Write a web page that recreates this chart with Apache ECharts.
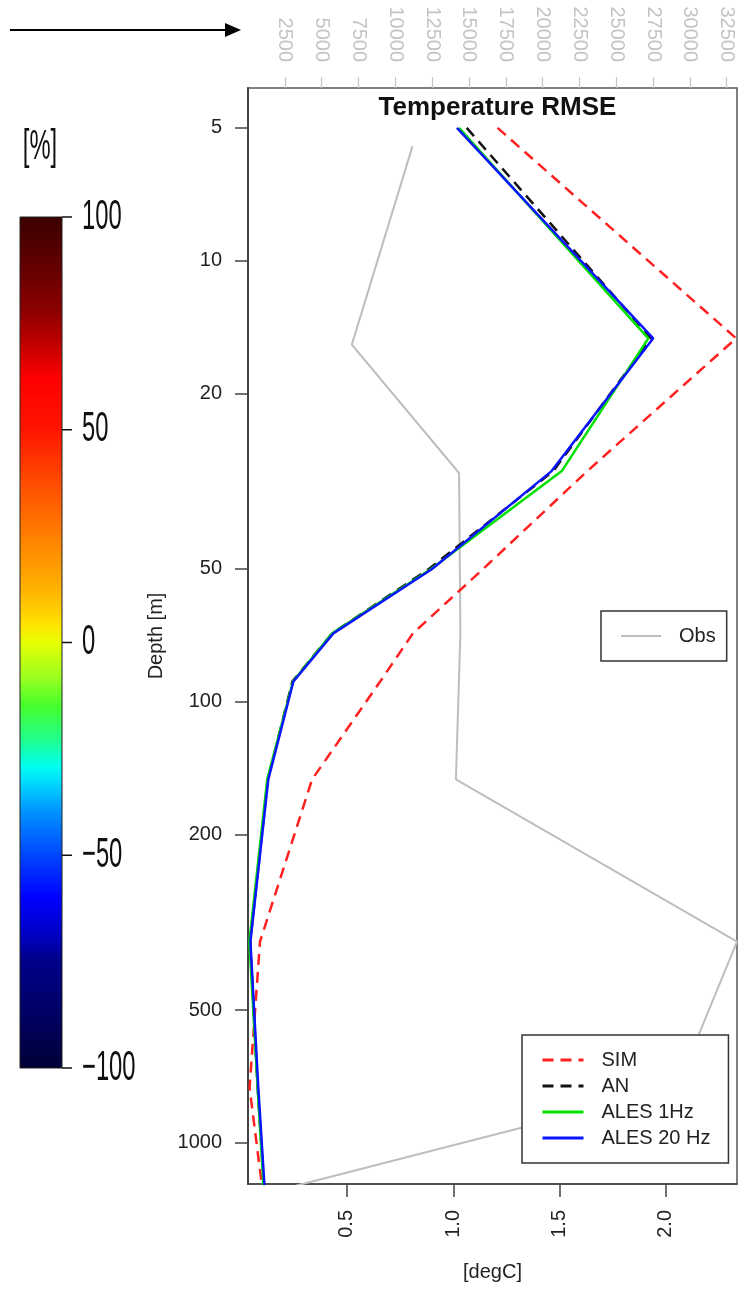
<!DOCTYPE html>
<html>
<head>
<meta charset="utf-8">
<script src="https://cdn.jsdelivr.net/npm/echarts@6/dist/echarts.min.js"></script>
<style>
  html, body { margin: 0; padding: 0; background: #fff; }
  #chart { width: 750px; height: 1289px; }
</style>
</head>
<body>
<div id="chart"></div>
<script>
// ---- data ----
const depthsModel = [5, 15, 30, 50, 70, 90, 150, 350, 750, 1250];
const simRmse   = [1.208, 2.33, 1.63, 1.14, 0.81, 0.656, 0.336, 0.091, 0.042, 0.10];
const anRmse    = [1.063, 1.93, 1.47, 0.885, 0.43, 0.243, 0.128, 0.045, 0.080, 0.110];
const ales1Rmse = [1.027, 1.917, 1.51, 0.895, 0.43, 0.246, 0.125, 0.041, 0.080, 0.107];
const ales20Rmse= [1.017, 1.94, 1.462, 0.90, 0.436, 0.248, 0.130, 0.046, 0.083, 0.112];

const depthsObs = [5.5, 15.5, 30.3, 70, 150, 350, 750, 1250];
const obsCount  = [11170, 7050, 14330, 14420, 14115, 33200, 29125, 3300];

const tempTicks  = [0.5, 1.0, 1.5, 2.0];
const depthTicks = [5, 10, 20, 50, 100, 200, 500, 1000];
const obsTicks   = [2500, 5000, 7500, 10000, 12500, 15000, 17500, 20000, 22500, 25000, 27500, 30000, 32500];
const colorbarTicks = [100, 50, 0, -50, -100];
const colorbarLabels = ['100', '50', '0', '\u221250', '\u2212100'];

// ---- build chart ----
const FONT = 'Liberation Sans, Arial, sans-serif';
const pair = (xs, ys) => ys.map((y, i) => [xs[i], y]);

const cb = { x: 20, y: 217, w: 42, h: 851, min: -100, max: 100 };
const cbY = v => cb.y + (cb.max - v) / (cb.max - cb.min) * cb.h;

const cbStops = [
  [0.00, '#3a0000'], [0.05, '#5c0000'], [0.11, '#8c0000'], [0.16, '#d00000'],
  [0.19, '#ff0000'], [0.25, '#ff1500'], [0.31, '#ff4a00'], [0.376, '#ff8000'],
  [0.44, '#ffb400'], [0.48, '#ffe400'], [0.50, '#e6ff00'], [0.54, '#9cff1e'],
  [0.575, '#45ff2d'], [0.615, '#20ff90'], [0.645, '#00ffee'], [0.665, '#00d8ff'],
  [0.70, '#0090ff'], [0.75, '#0045ff'], [0.80, '#0000ff'], [0.85, '#0000b8'],
  [0.87, '#00008c'], [0.94, '#000062'], [1.00, '#000035']
];

const graphics = [
  // arrow
  { type: 'line', shape: { x1: 10, y1: 30, x2: 228, y2: 30 }, style: { stroke: '#000', lineWidth: 2 } },
  { type: 'polygon', shape: { points: [[241, 30], [225, 23], [225, 37]] }, style: { fill: '#000' } },
  // colorbar
  { type: 'rect', shape: { x: cb.x, y: cb.y, width: cb.w, height: cb.h },
    style: { fill: new echarts.graphic.LinearGradient(0, 0, 0, 1, cbStops.map(s => ({ offset: s[0], color: s[1] }))),
             stroke: '#222', lineWidth: 1 } },
  { type: 'text', x: 40, y: 147, scaleX: 0.82, scaleY: 1.44,
    style: { text: '[%]', font: '29px ' + FONT, fill: '#111', align: 'center', verticalAlign: 'middle' } }
];
colorbarTicks.forEach((v, i) => {
  const y = cbY(v);
  graphics.push({ type: 'line', shape: { x1: cb.x + cb.w, y1: y, x2: cb.x + cb.w + 10, y2: y }, style: { stroke: '#111', lineWidth: 1.5 } });
  graphics.push({ type: 'text', x: 82, y: y, scaleX: 0.82, scaleY: 1.44,
    style: { text: colorbarLabels[i], font: '29px ' + FONT, fill: '#111', align: 'left', verticalAlign: 'middle' } });
});

const mkLine = (name, data, color, dashed, width) => ({
  name, type: 'line', data, xAxisIndex: 0, yAxisIndex: 0,
  symbol: 'none', showSymbol: false, clip: true, animation: false,
  lineStyle: { color, width, type: dashed ? [11, 7] : 'solid' },
  itemStyle: { color }
});

const legendItemStyle = { color: 'transparent', borderColor: 'transparent', borderWidth: 0, opacity: 0 };

const option = {
  animation: false,
  backgroundColor: '#fff',
  textStyle: { fontFamily: FONT },
  title: {
    text: 'Temperature RMSE', left: 492.5, top: 90, textAlign: 'center',
    textStyle: { fontFamily: FONT, fontSize: 26, fontWeight: 'bold', color: '#111' }
  },
  grid: [{ left: 248, top: 88, width: 489, height: 1096, show: true, borderColor: '#555', borderWidth: 1.5, backgroundColor: 'transparent', containLabel: false }],
  xAxis: [
    { type: 'value', gridIndex: 0, position: 'bottom', min: 0.0346, max: 2.334,
      name: '[degC]', nameLocation: 'middle', nameGap: 78,
      nameTextStyle: { fontFamily: FONT, fontSize: 20, color: '#222' },
      axisLine: { show: true, lineStyle: { color: '#444', width: 1.5 } },
      axisTick: { show: true, length: 13, customValues: tempTicks, lineStyle: { color: '#444', width: 1.5 } },
      axisLabel: { customValues: tempTicks, rotate: 90, margin: 26, fontSize: 20, color: '#222', fontFamily: FONT,
                   formatter: v => Number(v).toFixed(1) },
      splitLine: { show: false } },
    { type: 'value', gridIndex: 0, position: 'top', min: 0, max: 33200,
      axisLine: { show: false },
      axisTick: { show: true, length: 11, customValues: obsTicks, lineStyle: { color: '#c4c4c4', width: 1.2 } },
      axisLabel: { customValues: obsTicks, rotate: 90, margin: 26, fontSize: 20, color: '#c4c4c4', fontFamily: FONT,
                   formatter: v => String(v) },
      splitLine: { show: false } }
  ],
  yAxis: [
    { type: 'log', logBase: 10, gridIndex: 0, min: 4.06, max: 1240, inverse: true,
      name: 'Depth [m]', nameLocation: 'middle', nameGap: 73, nameRotate: 90,
      nameTextStyle: { fontFamily: FONT, fontSize: 20, color: '#222' },
      axisLine: { show: true, lineStyle: { color: '#444', width: 2 } },
      axisTick: { show: true, length: 13, customValues: depthTicks, lineStyle: { color: '#444', width: 1.5 } },
      axisLabel: { customValues: depthTicks, margin: 26, fontSize: 20, color: '#222', fontFamily: FONT,
                   formatter: v => String(Math.round(v)) },
      splitLine: { show: false }, minorTick: { show: false } }
  ],
  legend: [
    { data: ['Obs'], left: 601, top: 611, orient: 'vertical', padding: [15, 11, 15, 19],
      borderColor: '#333', borderWidth: 1.5, backgroundColor: '#fff',
      itemWidth: 40, itemHeight: 14, selectedMode: false, itemStyle: legendItemStyle,
      lineStyle: { width: 2 },
      textStyle: { fontFamily: FONT, fontSize: 20, color: '#222', padding: [0, 0, 0, 13] } },
    { data: ['SIM', 'AN', 'ALES 1Hz', 'ALES 20 Hz'], left: 522, top: 1035, orient: 'vertical',
      padding: [15, 18, 15, 19], itemGap: 6,
      borderColor: '#333', borderWidth: 1.5, backgroundColor: '#fff',
      itemWidth: 41, itemHeight: 14, selectedMode: false, itemStyle: legendItemStyle,
      lineStyle: { width: 3 },
      textStyle: { fontFamily: FONT, fontSize: 20, color: '#222', padding: [0, 0, 0, 13] } }
  ],
  series: [
    { name: 'Obs', type: 'line', data: pair(obsCount, depthsObs), xAxisIndex: 1, yAxisIndex: 0,
      symbol: 'none', showSymbol: false, clip: true,
      lineStyle: { color: '#bebebe', width: 2 }, itemStyle: { color: '#bebebe' } },
    mkLine('SIM', pair(simRmse, depthsModel), '#ff2020', true, 2.5),
    mkLine('AN', pair(anRmse, depthsModel), '#111111', true, 2.5),
    mkLine('ALES 1Hz', pair(ales1Rmse, depthsModel), '#00e000', false, 2.5),
    mkLine('ALES 20 Hz', pair(ales20Rmse, depthsModel), '#0a14ff', false, 2.5)
  ],
  graphic: graphics
};

const chart = echarts.init(document.getElementById('chart'), null, { renderer: 'canvas' });
chart.setOption(option);
</script>
</body>
</html>
